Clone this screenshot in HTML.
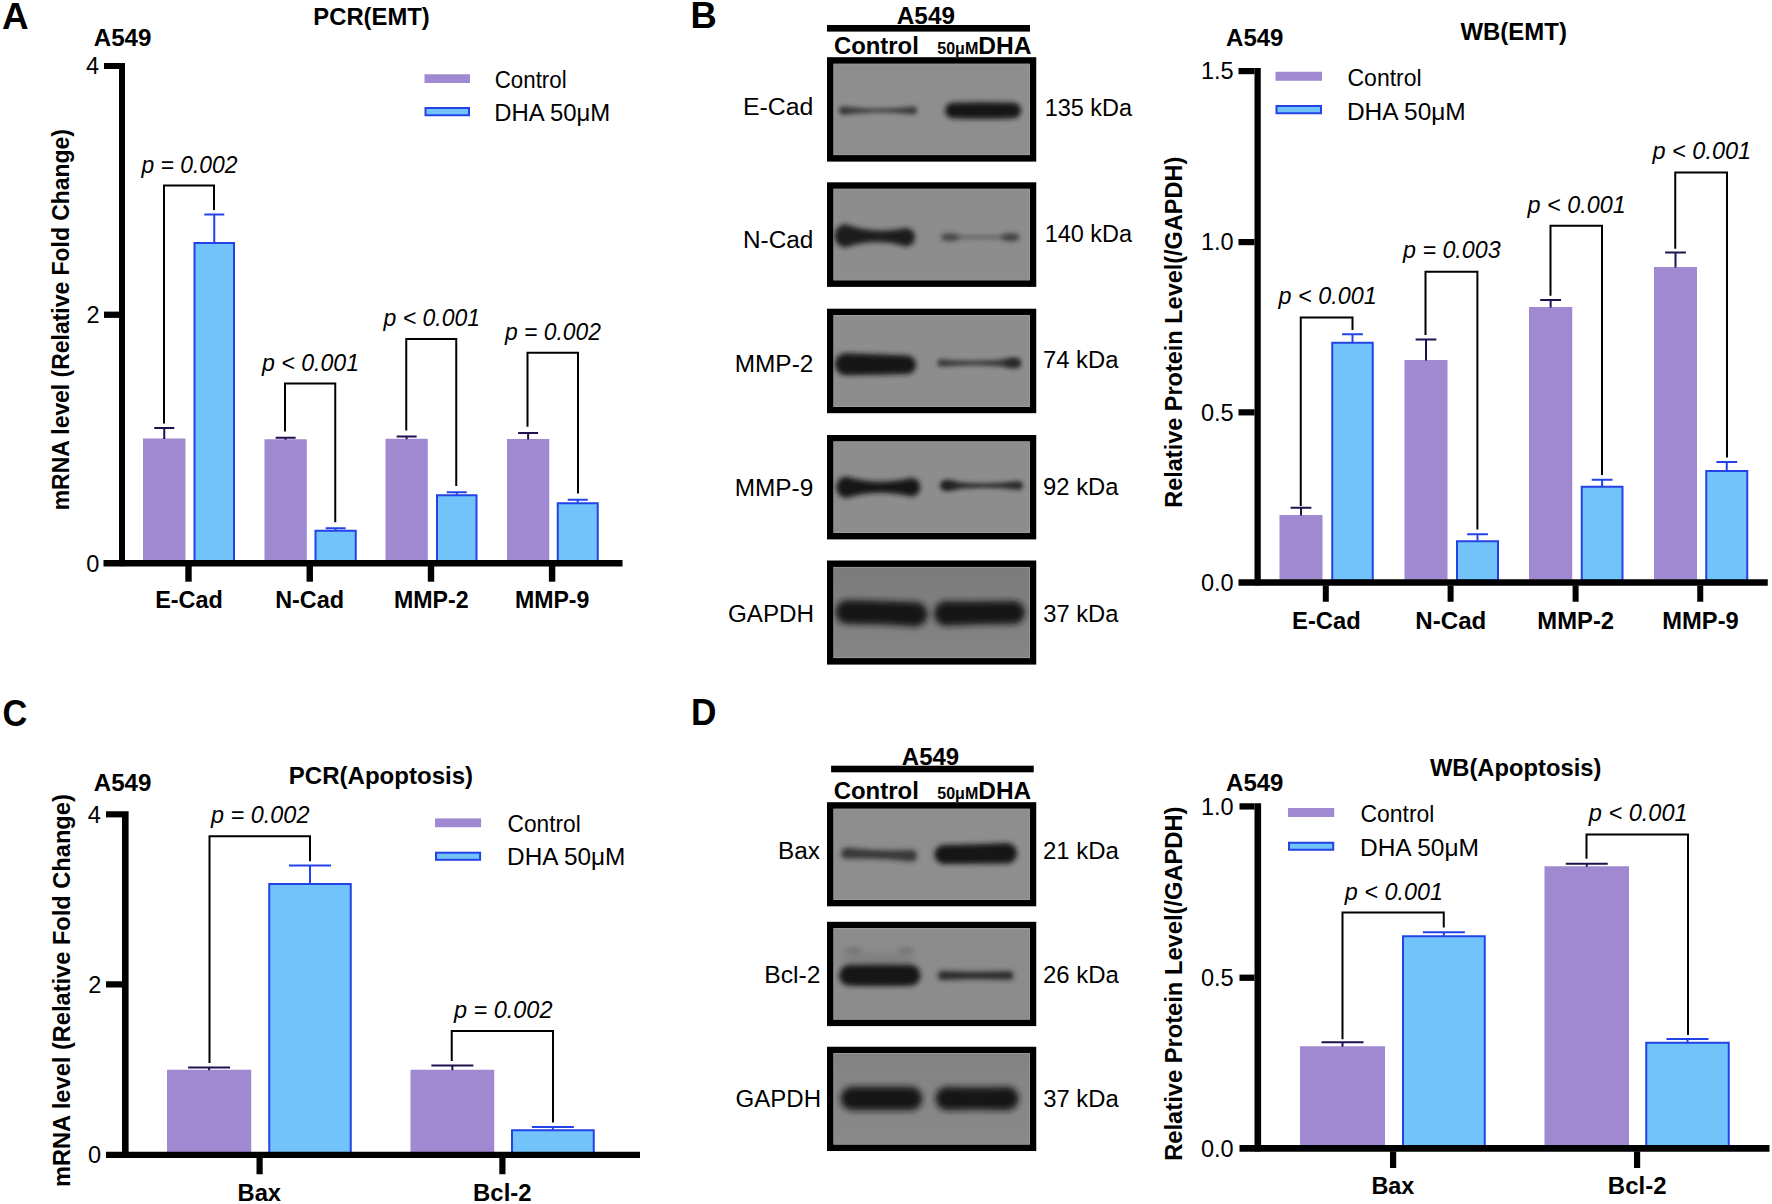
<!DOCTYPE html>
<html><head><meta charset="utf-8"><title>Figure</title>
<style>
html,body{margin:0;padding:0;background:#fff}
svg{display:block}
text{font-family:"Liberation Sans",sans-serif}
</style></head><body>
<svg width="1772" height="1204" viewBox="0 0 1772 1204">
<defs><filter id="bl20" x="-30%" y="-200%" width="160%" height="500%"><feGaussianBlur stdDeviation="2.0"/></filter><filter id="bl22" x="-30%" y="-200%" width="160%" height="500%"><feGaussianBlur stdDeviation="2.2"/></filter><filter id="bl23" x="-30%" y="-200%" width="160%" height="500%"><feGaussianBlur stdDeviation="2.3"/></filter><filter id="bl24" x="-30%" y="-200%" width="160%" height="500%"><feGaussianBlur stdDeviation="2.4"/></filter><filter id="bl26" x="-30%" y="-200%" width="160%" height="500%"><feGaussianBlur stdDeviation="2.6"/></filter><filter id="bl27" x="-30%" y="-200%" width="160%" height="500%"><feGaussianBlur stdDeviation="2.7"/></filter><filter id="bl29" x="-30%" y="-200%" width="160%" height="500%"><feGaussianBlur stdDeviation="2.9"/></filter><filter id="bl30" x="-30%" y="-200%" width="160%" height="500%"><feGaussianBlur stdDeviation="3.0"/></filter><filter id="bl35" x="-30%" y="-200%" width="160%" height="500%"><feGaussianBlur stdDeviation="3.5"/></filter></defs>
<rect width="1772" height="1204" fill="#fff"/>
<text transform="translate(1.98,29.00) scale(0.9964,1)" font-size="37" font-weight="bold" fill="#000">A</text>
<text transform="translate(690.53,28.20) scale(0.9836,1)" font-size="37" font-weight="bold" fill="#000">B</text>
<text transform="translate(2.53,725.50) scale(0.9284,1)" font-size="37" font-weight="bold" fill="#000">C</text>
<text transform="translate(690.91,725.10) scale(0.9536,1)" font-size="37" font-weight="bold" fill="#000">D</text>
<rect x="143.00" y="438.50" width="42.50" height="122.00" fill="#a089d0" />
<path d="M154.25 428.00H174.25M164.25 428.00V439.00" stroke="#21104f" stroke-width="2" fill="none"/>
<rect x="194.50" y="243.00" width="39.50" height="318.50" fill="#73c3fb" stroke="#2443e6" stroke-width="2.0"/>
<path d="M204.25 214.50H224.25M214.25 214.50V242.50" stroke="#2443e6" stroke-width="2" fill="none"/>
<rect x="264.50" y="439.25" width="42.25" height="121.25" fill="#a089d0" />
<path d="M275.62 437.75H295.62M285.62 437.75V439.75" stroke="#21104f" stroke-width="2" fill="none"/>
<rect x="315.50" y="530.75" width="40.25" height="30.75" fill="#73c3fb" stroke="#2443e6" stroke-width="2.0"/>
<path d="M325.62 528.25H345.62M335.62 528.25V530.25" stroke="#2443e6" stroke-width="2" fill="none"/>
<rect x="385.50" y="438.75" width="42.25" height="121.75" fill="#a089d0" />
<path d="M396.62 436.50H416.62M406.62 436.50V439.25" stroke="#21104f" stroke-width="2" fill="none"/>
<rect x="437.00" y="495.25" width="39.50" height="66.25" fill="#73c3fb" stroke="#2443e6" stroke-width="2.0"/>
<path d="M446.75 492.25H466.75M456.75 492.25V494.75" stroke="#2443e6" stroke-width="2" fill="none"/>
<rect x="507.00" y="439.00" width="42.25" height="121.50" fill="#a089d0" />
<path d="M518.12 433.00H538.12M528.12 433.00V439.50" stroke="#21104f" stroke-width="2" fill="none"/>
<rect x="557.75" y="503.25" width="40.00" height="58.25" fill="#73c3fb" stroke="#2443e6" stroke-width="2.0"/>
<path d="M567.75 499.75H587.75M577.75 499.75V502.75" stroke="#2443e6" stroke-width="2" fill="none"/>
<path d="M164.00 423.50V185.50H214.00V210.00" stroke="#000" stroke-width="2" fill="none"/>
<path d="M285.00 431.50V383.50H335.25V522.25" stroke="#000" stroke-width="2" fill="none"/>
<path d="M406.25 430.50V339.00H456.25V486.00" stroke="#000" stroke-width="2" fill="none"/>
<path d="M527.50 426.75V352.75H578.00V493.50" stroke="#000" stroke-width="2" fill="none"/>
<text transform="translate(141.47,173.00) scale(0.9735,1)" font-size="23.5" font-style="italic" fill="#000">p = 0.002</text>
<text transform="translate(261.98,371.00) scale(0.9848,1)" font-size="23.5" font-style="italic" fill="#000">p &lt; 0.001</text>
<text transform="translate(383.48,326.00) scale(0.9797,1)" font-size="23.5" font-style="italic" fill="#000">p &lt; 0.001</text>
<text transform="translate(504.97,339.75) scale(0.9735,1)" font-size="23.5" font-style="italic" fill="#000">p = 0.002</text>
<text transform="translate(85.93,74.21) scale(0.9900,1)" font-size="23.8" fill="#000">4</text>
<text transform="translate(86.40,323.08) scale(0.9900,1)" font-size="23.8" fill="#000">2</text>
<text transform="translate(86.17,571.58) scale(0.9900,1)" font-size="23.8" fill="#000">0</text>
<text transform="translate(155.13,608.00) scale(0.9933,1)" font-size="23.6" font-weight="bold" fill="#000">E-Cad</text>
<text transform="translate(275.13,608.00) scale(0.9927,1)" font-size="23.6" font-weight="bold" fill="#000">N-Cad</text>
<text transform="translate(393.89,608.00) scale(0.9821,1)" font-size="23.6" font-weight="bold" fill="#000">MMP-2</text>
<text transform="translate(514.90,608.00) scale(0.9806,1)" font-size="23.6" font-weight="bold" fill="#000">MMP-9</text>
<text transform="translate(313.35,25.00) scale(1.0005,1)" font-size="23.8" font-weight="bold" fill="#000">PCR(EMT)</text>
<text transform="translate(93.80,45.50) scale(1.0050,1)" font-size="24" font-weight="bold" fill="#000">A549</text>
<rect x="424.50" y="74.25" width="45.50" height="8.75" fill="#a089d0" />
<rect x="425.50" y="108.00" width="43.50" height="7.25" fill="#73c3fb" stroke="#2443e6" stroke-width="2.0"/>
<text transform="translate(494.79,87.50) scale(0.9565,1)" font-size="23.3" fill="#000">Control</text>
<text transform="translate(494.19,120.50) scale(1.0261,1)" font-size="23.3" fill="#000">DHA 50μM</text>
<text transform="translate(68.70,510.29) rotate(-90) scale(0.9760,1)" font-size="23.5" font-weight="bold">mRNA level (Relative Fold Change)</text>
<rect x="167.00" y="1069.75" width="84.25" height="82.45" fill="#a089d0" />
<path d="M188.12 1067.50H230.12M209.12 1067.50V1070.25" stroke="#21104f" stroke-width="2" fill="none"/>
<rect x="269.25" y="884.00" width="81.50" height="269.20" fill="#73c3fb" stroke="#2443e6" stroke-width="2.0"/>
<path d="M289.00 865.50H331.00M310.00 865.50V883.50" stroke="#2443e6" stroke-width="2" fill="none"/>
<rect x="410.50" y="1069.75" width="83.75" height="82.45" fill="#a089d0" />
<path d="M431.38 1065.50H473.38M452.38 1065.50V1070.25" stroke="#21104f" stroke-width="2" fill="none"/>
<rect x="512.00" y="1130.25" width="81.75" height="22.95" fill="#73c3fb" stroke="#2443e6" stroke-width="2.0"/>
<path d="M531.88 1127.00H573.88M552.88 1127.00V1129.75" stroke="#2443e6" stroke-width="2" fill="none"/>
<path d="M209.50 1063.00V836.25H310.00V861.25" stroke="#000" stroke-width="2" fill="none"/>
<path d="M451.75 1061.00V1031.00H553.00V1122.50" stroke="#000" stroke-width="2" fill="none"/>
<text transform="translate(210.99,823.00) scale(0.9988,1)" font-size="23.5" font-style="italic" fill="#000">p = 0.002</text>
<text transform="translate(453.99,1017.50) scale(0.9988,1)" font-size="23.5" font-style="italic" fill="#000">p = 0.002</text>
<text transform="translate(87.83,822.51) scale(0.9900,1)" font-size="23.8" fill="#000">4</text>
<text transform="translate(88.30,992.73) scale(0.9900,1)" font-size="23.8" fill="#000">2</text>
<text transform="translate(88.07,1163.33) scale(0.9900,1)" font-size="23.8" fill="#000">0</text>
<text transform="translate(237.61,1201.00) scale(1.0039,1)" font-size="23.6" font-weight="bold" fill="#000">Bax</text>
<text transform="translate(473.10,1201.00) scale(1.0131,1)" font-size="23.6" font-weight="bold" fill="#000">Bcl-2</text>
<text transform="translate(288.84,783.75) scale(1.0105,1)" font-size="23.8" font-weight="bold" fill="#000">PCR(Apoptosis)</text>
<text transform="translate(93.80,791.00) scale(1.0050,1)" font-size="24" font-weight="bold" fill="#000">A549</text>
<rect x="435.00" y="818.40" width="46.10" height="8.80" fill="#a089d0" />
<rect x="436.00" y="852.70" width="44.10" height="7.10" fill="#73c3fb" stroke="#2443e6" stroke-width="2.0"/>
<text transform="translate(507.56,832.40) scale(0.9745,1)" font-size="23.3" fill="#000">Control</text>
<text transform="translate(507.05,865.40) scale(1.0467,1)" font-size="23.3" fill="#000">DHA 50μM</text>
<text transform="translate(70.20,1187.04) rotate(-90) scale(1.0059,1)" font-size="23.5" font-weight="bold">mRNA level (Relative Fold Change)</text>
<rect x="1279.50" y="515.00" width="43.00" height="64.70" fill="#a089d0" />
<path d="M1290.60 507.75H1311.40M1301.00 507.75V515.50" stroke="#21104f" stroke-width="2" fill="none"/>
<rect x="1332.25" y="342.75" width="40.50" height="237.95" fill="#73c3fb" stroke="#2443e6" stroke-width="2.0"/>
<path d="M1342.10 334.25H1362.90M1352.50 334.25V342.25" stroke="#2443e6" stroke-width="2" fill="none"/>
<rect x="1404.50" y="360.00" width="43.00" height="219.70" fill="#a089d0" />
<path d="M1415.60 339.40H1436.40M1426.00 339.40V360.50" stroke="#21104f" stroke-width="2" fill="none"/>
<rect x="1457.00" y="541.25" width="41.00" height="39.45" fill="#73c3fb" stroke="#2443e6" stroke-width="2.0"/>
<path d="M1467.10 534.25H1487.90M1477.50 534.25V540.75" stroke="#2443e6" stroke-width="2" fill="none"/>
<rect x="1529.00" y="307.00" width="43.25" height="272.70" fill="#a089d0" />
<path d="M1540.22 299.90H1561.03M1550.62 299.90V307.50" stroke="#21104f" stroke-width="2" fill="none"/>
<rect x="1581.75" y="486.75" width="40.75" height="93.95" fill="#73c3fb" stroke="#2443e6" stroke-width="2.0"/>
<path d="M1591.72 479.75H1612.53M1602.12 479.75V486.25" stroke="#2443e6" stroke-width="2" fill="none"/>
<rect x="1654.00" y="267.00" width="43.00" height="312.70" fill="#a089d0" />
<path d="M1665.10 252.50H1685.90M1675.50 252.50V267.50" stroke="#21104f" stroke-width="2" fill="none"/>
<rect x="1706.25" y="471.00" width="41.00" height="109.70" fill="#73c3fb" stroke="#2443e6" stroke-width="2.0"/>
<path d="M1716.35 462.00H1737.15M1726.75 462.00V470.50" stroke="#2443e6" stroke-width="2" fill="none"/>
<path d="M1300.75 506.00V317.50H1352.50V330.00" stroke="#000" stroke-width="2" fill="none"/>
<path d="M1425.50 335.00V271.75H1477.40V529.50" stroke="#000" stroke-width="2" fill="none"/>
<path d="M1550.50 295.75V225.75H1602.00V475.00" stroke="#000" stroke-width="2" fill="none"/>
<path d="M1675.25 248.75V172.50H1727.00V457.50" stroke="#000" stroke-width="2" fill="none"/>
<text transform="translate(1278.48,303.75) scale(0.9951,1)" font-size="23.5" font-style="italic" fill="#000">p &lt; 0.001</text>
<text transform="translate(1402.98,257.50) scale(0.9900,1)" font-size="23.5" font-style="italic" fill="#000">p = 0.003</text>
<text transform="translate(1527.48,212.50) scale(0.9951,1)" font-size="23.5" font-style="italic" fill="#000">p &lt; 0.001</text>
<text transform="translate(1652.49,159.25) scale(1.0003,1)" font-size="23.5" font-style="italic" fill="#000">p &lt; 0.001</text>
<text transform="translate(1200.89,79.46) scale(0.9900,1)" font-size="23.8" fill="#000">1.5</text>
<text transform="translate(1200.89,250.43) scale(0.9900,1)" font-size="23.8" fill="#000">1.0</text>
<text transform="translate(1200.89,420.73) scale(0.9900,1)" font-size="23.8" fill="#000">0.5</text>
<text transform="translate(1200.89,590.83) scale(0.9900,1)" font-size="23.8" fill="#000">0.0</text>
<text transform="translate(1292.06,628.75) scale(0.9903,1)" font-size="24" font-weight="bold" fill="#000">E-Cad</text>
<text transform="translate(1415.33,628.75) scale(1.0058,1)" font-size="24" font-weight="bold" fill="#000">N-Cad</text>
<text transform="translate(1537.35,628.75) scale(0.9925,1)" font-size="24" font-weight="bold" fill="#000">MMP-2</text>
<text transform="translate(1662.36,628.75) scale(0.9876,1)" font-size="24" font-weight="bold" fill="#000">MMP-9</text>
<text transform="translate(1460.40,40.00) scale(1.0081,1)" font-size="23.8" font-weight="bold" fill="#000">WB(EMT)</text>
<text transform="translate(1226.05,45.50) scale(1.0005,1)" font-size="24" font-weight="bold" fill="#000">A549</text>
<rect x="1275.50" y="71.75" width="46.50" height="9.00" fill="#a089d0" />
<rect x="1276.50" y="106.00" width="44.50" height="7.25" fill="#73c3fb" stroke="#2443e6" stroke-width="2.0"/>
<text transform="translate(1347.50,85.50) scale(0.9876,1)" font-size="23.3" fill="#000">Control</text>
<text transform="translate(1346.94,119.50) scale(1.0508,1)" font-size="23.3" fill="#000">DHA 50μM</text>
<text transform="translate(1182.20,507.78) rotate(-90) scale(0.9998,1)" font-size="23.5" font-weight="bold">Relative Protein Level(/GAPDH)</text>
<rect x="1300.00" y="1046.25" width="85.00" height="99.25" fill="#a089d0" />
<path d="M1321.50 1042.25H1363.50M1342.50 1042.25V1046.75" stroke="#21104f" stroke-width="2" fill="none"/>
<rect x="1403.00" y="936.25" width="81.75" height="210.25" fill="#73c3fb" stroke="#2443e6" stroke-width="2.0"/>
<path d="M1422.88 932.25H1464.88M1443.88 932.25V935.75" stroke="#2443e6" stroke-width="2" fill="none"/>
<rect x="1544.50" y="866.25" width="84.50" height="279.25" fill="#a089d0" />
<path d="M1565.75 863.75H1607.75M1586.75 863.75V866.75" stroke="#21104f" stroke-width="2" fill="none"/>
<rect x="1646.25" y="1042.75" width="82.50" height="103.75" fill="#73c3fb" stroke="#2443e6" stroke-width="2.0"/>
<path d="M1666.50 1039.00H1708.50M1687.50 1039.00V1042.25" stroke="#2443e6" stroke-width="2" fill="none"/>
<path d="M1342.50 1039.25V912.50H1443.75V927.50" stroke="#000" stroke-width="2" fill="none"/>
<path d="M1586.50 858.75V834.50H1688.00V1035.00" stroke="#000" stroke-width="2" fill="none"/>
<text transform="translate(1344.73,899.50) scale(0.9951,1)" font-size="23.5" font-style="italic" fill="#000">p &lt; 0.001</text>
<text transform="translate(1588.74,820.50) scale(1.0029,1)" font-size="23.5" font-style="italic" fill="#000">p &lt; 0.001</text>
<text transform="translate(1200.89,814.73) scale(0.9900,1)" font-size="23.8" fill="#000">1.0</text>
<text transform="translate(1200.89,985.93) scale(0.9900,1)" font-size="23.8" fill="#000">0.5</text>
<text transform="translate(1200.89,1156.93) scale(0.9900,1)" font-size="23.8" fill="#000">0.0</text>
<text transform="translate(1371.38,1194.25) scale(0.9919,1)" font-size="23.6" font-weight="bold" fill="#000">Bax</text>
<text transform="translate(1607.84,1194.25) scale(1.0177,1)" font-size="23.6" font-weight="bold" fill="#000">Bcl-2</text>
<text transform="translate(1429.90,775.50) scale(0.9982,1)" font-size="23.8" font-weight="bold" fill="#000">WB(Apoptosis)</text>
<text transform="translate(1226.05,791.25) scale(1.0005,1)" font-size="24" font-weight="bold" fill="#000">A549</text>
<rect x="1288.00" y="808.00" width="46.25" height="9.00" fill="#a089d0" />
<rect x="1289.00" y="842.75" width="44.25" height="7.00" fill="#73c3fb" stroke="#2443e6" stroke-width="2.0"/>
<text transform="translate(1360.50,822.00) scale(0.9842,1)" font-size="23.3" fill="#000">Control</text>
<text transform="translate(1359.94,855.75) scale(1.0531,1)" font-size="23.3" fill="#000">DHA 50μM</text>
<text transform="translate(1182.20,1160.79) rotate(-90) scale(1.0090,1)" font-size="23.5" font-weight="bold">Relative Protein Level(/GAPDH)</text>
<rect x="827.00" y="57.20" width="209.25" height="104.40" fill="#000" />
<clipPath id="c1"><rect x="833.3" y="63.5" width="196.6500000000001" height="91.79999999999998"/></clipPath>
<g clip-path="url(#c1)">
<rect x="833.30" y="63.50" width="196.65" height="91.80" fill="#8e8e8e" />
<rect x="833.6999999999999" y="63.9" width="195.85000000000008" height="90.99999999999999" fill="none" stroke="#a0a0a0" stroke-width="0.8"/>
<path d="M843.2 106.2 Q878.0 111.1 913.0 106.5 A4.0 4.0 0 0 1 913.0 114.5 Q878.0 109.9 843.2 114.8 A4.2 4.2 0 0 1 843.2 106.2Z" fill="#333" opacity="0.9" filter="url(#bl20)"/>
<path d="M952.0 102.8 Q983.0 101.8 1014.0 102.8 A7.8 7.8 0 0 1 1014.0 118.3 Q983.0 119.3 952.0 118.3 A7.8 7.8 0 0 1 952.0 102.8Z" fill="#161616" opacity="1" filter="url(#bl26)"/>
</g>
<rect x="827.00" y="182.30" width="209.25" height="104.60" fill="#000" />
<clipPath id="c2"><rect x="833.3" y="188.60000000000002" width="196.6500000000001" height="91.99999999999994"/></clipPath>
<g clip-path="url(#c2)">
<rect x="833.30" y="188.60" width="196.65" height="92.00" fill="#8d8d8d" />
<rect x="833.6999999999999" y="189.00000000000003" width="195.85000000000008" height="91.19999999999995" fill="none" stroke="#a0a0a0" stroke-width="0.8"/>
<path d="M846.0 224.3 Q874.8 235.2 905.8 227.9 A9.2 9.2 0 0 1 905.8 246.4 Q874.8 237.4 846.0 247.3 A11.5 11.5 0 0 1 846.0 224.3Z" fill="#1a1a1a" opacity="1" filter="url(#bl29)"/>
<path d="M944.5 234.7 Q980.2 236.2 1016.0 234.7 A2.5 2.5 0 0 1 1016.0 239.7 Q980.2 238.2 944.5 239.7 A2.5 2.5 0 0 1 944.5 234.7Z" fill="#4a4a4a" opacity="0.6" filter="url(#bl22)"/>
<ellipse cx="950" cy="237.2" rx="9" ry="3.6" fill="#383838" opacity="0.75" filter="url(#bl24)"/>
<ellipse cx="1010.5" cy="237.2" rx="9" ry="3.8" fill="#383838" opacity="0.8" filter="url(#bl24)"/>
</g>
<rect x="827.00" y="308.70" width="209.25" height="104.50" fill="#000" />
<clipPath id="c3"><rect x="833.3" y="315.0" width="196.6500000000001" height="91.89999999999998"/></clipPath>
<g clip-path="url(#c3)">
<rect x="833.30" y="315.00" width="196.65" height="91.90" fill="#8d8d8d" />
<rect x="833.6999999999999" y="315.4" width="195.85000000000008" height="91.09999999999998" fill="none" stroke="#a0a0a0" stroke-width="0.8"/>
<path d="M846.0 353.2 Q875.5 354.1 906.8 355.6 A9.2 9.2 0 0 1 906.8 374.1 Q875.5 374.9 846.0 375.2 A11.0 11.0 0 0 1 846.0 353.2Z" fill="#171717" opacity="1" filter="url(#bl29)"/>
<path d="M941.2 359.2 Q979.1 362.9 1015.8 358.0 A5.0 5.0 0 0 1 1015.8 368.0 Q979.1 363.1 941.2 366.8 A3.8 3.8 0 0 1 941.2 359.2Z" fill="#303030" opacity="0.9" filter="url(#bl23)"/>
<ellipse cx="1012.5" cy="363" rx="8" ry="4.6" fill="#222" opacity="0.75" filter="url(#bl24)"/>
</g>
<rect x="827.00" y="435.00" width="209.25" height="104.40" fill="#000" />
<clipPath id="c4"><rect x="833.3" y="441.3" width="196.6500000000001" height="91.80000000000001"/></clipPath>
<g clip-path="url(#c4)">
<rect x="833.30" y="441.30" width="196.65" height="91.80" fill="#8d8d8d" />
<rect x="833.6999999999999" y="441.7" width="195.85000000000008" height="91.00000000000001" fill="none" stroke="#a0a0a0" stroke-width="0.8"/>
<path d="M846.0 476.4 Q877.8 486.2 911.0 477.9 A9.2 9.2 0 0 1 911.0 496.4 Q877.8 488.2 846.0 497.9 A10.8 10.8 0 0 1 846.0 476.4Z" fill="#171717" opacity="1" filter="url(#bl29)"/>
<path d="M945.5 480.6 Q981.8 485.9 1018.5 481.1 A4.5 4.5 0 0 1 1018.5 490.1 Q981.8 485.4 945.5 490.6 A5.0 5.0 0 0 1 945.5 480.6Z" fill="#282828" opacity="0.95" filter="url(#bl23)"/>
<ellipse cx="948.5" cy="485.6" rx="7.5" ry="4.6" fill="#1e1e1e" opacity="0.7" filter="url(#bl24)"/>
</g>
<rect x="827.00" y="560.50" width="209.25" height="104.10" fill="#000" />
<clipPath id="c5"><rect x="833.3" y="566.8" width="196.6500000000001" height="91.50000000000011"/></clipPath>
<g clip-path="url(#c5)">
<linearGradient id="g5" x1="0" y1="0" x2="0" y2="1"><stop offset="0" stop-color="#7b7b7b"/><stop offset="1" stop-color="#858585"/></linearGradient>
<rect x="833.30" y="566.80" width="196.65" height="91.50" fill="url(#g5)" />
<rect x="833.6999999999999" y="567.1999999999999" width="195.85000000000008" height="90.70000000000012" fill="none" stroke="#a0a0a0" stroke-width="0.8"/>
<path d="M847.5 600.1 Q881.5 601.2 915.2 601.9 A12.2 12.2 0 0 1 915.2 626.4 Q881.5 624.0 847.5 624.1 A12.0 12.0 0 0 1 847.5 600.1Z" fill="#161616" opacity="1" filter="url(#bl30)"/>
<path d="M946.2 601.3 Q979.4 601.7 1013.3 601.0 A11.5 11.5 0 0 1 1013.3 624.0 Q979.4 623.9 946.2 625.8 A12.2 12.2 0 0 1 946.2 601.3Z" fill="#161616" opacity="1" filter="url(#bl30)"/>
</g>
<rect x="827.00" y="802.20" width="209.25" height="104.10" fill="#000" />
<clipPath id="c6"><rect x="833.3" y="808.5" width="196.6500000000001" height="91.5"/></clipPath>
<g clip-path="url(#c6)">
<rect x="833.30" y="808.50" width="196.65" height="91.50" fill="#8e8e8e" />
<rect x="833.6999999999999" y="808.9" width="195.85000000000008" height="90.7" fill="none" stroke="#a0a0a0" stroke-width="0.8"/>
<path d="M846.5 847.8 Q879.2 851.6 911.8 850.0 A5.8 5.8 0 0 1 911.8 861.5 Q879.2 857.4 846.5 858.8 A5.5 5.5 0 0 1 846.5 847.8Z" fill="#2c2c2c" opacity="0.88" filter="url(#bl27)"/>
<path d="M944.0 845.0 Q975.8 844.4 1006.8 843.0 A10.2 10.2 0 0 1 1006.8 863.5 Q975.8 863.6 944.0 864.0 A9.5 9.5 0 0 1 944.0 845.0Z" fill="#171717" opacity="1" filter="url(#bl29)"/>
</g>
<rect x="827.00" y="921.80" width="209.25" height="104.30" fill="#000" />
<clipPath id="c7"><rect x="833.3" y="928.0999999999999" width="196.6500000000001" height="91.70000000000005"/></clipPath>
<g clip-path="url(#c7)">
<rect x="833.30" y="928.10" width="196.65" height="91.70" fill="#8c8c8c" />
<rect x="833.6999999999999" y="928.4999999999999" width="195.85000000000008" height="90.90000000000005" fill="none" stroke="#a0a0a0" stroke-width="0.8"/>
<path d="M847.0 953.0 Q878.5 953.0 910.0 953.0 A5.0 5.0 0 0 1 910.0 963.0 Q878.5 963.0 847.0 963.0 A5.0 5.0 0 0 1 847.0 953.0Z" fill="#6a6a6a" opacity="0.35" filter="url(#bl35)"/>
<ellipse cx="854" cy="950.5" rx="9" ry="2.6" fill="#5a5a5a" opacity="0.55" filter="url(#bl24)"/>
<ellipse cx="905.5" cy="950.5" rx="8" ry="2.6" fill="#5a5a5a" opacity="0.55" filter="url(#bl24)"/>
<path d="M849.5 964.8 Q879.8 964.3 910.0 964.8 A10.5 10.5 0 0 1 910.0 985.8 Q879.8 986.3 849.5 985.8 A10.5 10.5 0 0 1 849.5 964.8Z" fill="#161616" opacity="1" filter="url(#bl29)"/>
<path d="M942.5 971.0 Q975.8 972.9 1009.2 971.2 A4.2 4.2 0 0 1 1009.2 979.8 Q975.8 978.1 942.5 980.0 A4.5 4.5 0 0 1 942.5 971.0Z" fill="#242424" opacity="0.95" filter="url(#bl24)"/>
</g>
<rect x="827.00" y="1046.75" width="209.25" height="104.25" fill="#000" />
<clipPath id="c8"><rect x="833.3" y="1053.05" width="196.6500000000001" height="91.65000000000009"/></clipPath>
<g clip-path="url(#c8)">
<linearGradient id="g8" x1="0" y1="0" x2="0" y2="1"><stop offset="0" stop-color="#838383"/><stop offset="1" stop-color="#898989"/></linearGradient>
<rect x="833.30" y="1053.05" width="196.65" height="91.65" fill="url(#g8)" />
<rect x="833.6999999999999" y="1053.45" width="195.85000000000008" height="90.8500000000001" fill="none" stroke="#a0a0a0" stroke-width="0.8"/>
<path d="M850.8 1086.8 Q881.4 1086.8 912.0 1086.8 A11.8 11.8 0 0 1 912.0 1110.2 Q881.4 1110.2 850.8 1110.2 A11.8 11.8 0 0 1 850.8 1086.8Z" fill="#161616" opacity="1" filter="url(#bl30)"/>
<path d="M945.8 1086.8 Q977.1 1087.8 1008.5 1086.8 A11.8 11.8 0 0 1 1008.5 1110.2 Q977.1 1109.2 945.8 1110.2 A11.8 11.8 0 0 1 945.8 1086.8Z" fill="#161616" opacity="1" filter="url(#bl30)"/>
</g>
<text transform="translate(743.01,115.20) scale(1.0219,1)" font-size="24.3" fill="#000">E-Cad</text>
<text transform="translate(743.05,247.60) scale(1.0014,1)" font-size="24.3" fill="#000">N-Cad</text>
<text transform="translate(734.70,372.00) scale(1.0048,1)" font-size="24.3" fill="#000">MMP-2</text>
<text transform="translate(734.70,496.25) scale(1.0032,1)" font-size="24.3" fill="#000">MMP-9</text>
<text transform="translate(727.94,622.00) scale(0.9967,1)" font-size="24.3" fill="#000">GAPDH</text>
<text transform="translate(1044.64,115.50) scale(0.9662,1)" font-size="24.3" fill="#000">135 kDa</text>
<text transform="translate(1044.64,241.50) scale(0.9662,1)" font-size="24.3" fill="#000">140 kDa</text>
<text transform="translate(1042.96,368.00) scale(0.9803,1)" font-size="24.3" fill="#000">74 kDa</text>
<text transform="translate(1043.08,494.50) scale(0.9787,1)" font-size="24.3" fill="#000">92 kDa</text>
<text transform="translate(1043.20,622.00) scale(0.9771,1)" font-size="24.3" fill="#000">37 kDa</text>
<text transform="translate(777.96,858.75) scale(0.9992,1)" font-size="24.3" fill="#000">Bax</text>
<text transform="translate(764.18,983.00) scale(1.0159,1)" font-size="24.3" fill="#000">Bcl-2</text>
<text transform="translate(735.45,1106.75) scale(0.9907,1)" font-size="24.3" fill="#000">GAPDH</text>
<text transform="translate(1042.95,858.75) scale(0.9869,1)" font-size="24.3" fill="#000">21 kDa</text>
<text transform="translate(1042.95,983.00) scale(0.9869,1)" font-size="24.3" fill="#000">26 kDa</text>
<text transform="translate(1043.20,1106.75) scale(0.9804,1)" font-size="24.3" fill="#000">37 kDa</text>
<text transform="translate(896.79,23.75) scale(1.0139,1)" font-size="24" font-weight="bold" fill="#000">A549</text>
<text transform="translate(833.94,53.75) scale(0.9874,1)" font-size="24.2" font-weight="bold" fill="#000">Control</text>
<text transform="translate(937.22,53.75) scale(0.9791,1)" font-size="16.4" font-weight="bold" fill="#000">50μM</text>
<text transform="translate(978.30,53.75) scale(1.0146,1)" font-size="24.2" font-weight="bold" fill="#000">DHA</text>
<text transform="translate(901.80,764.50) scale(1.0005,1)" font-size="24" font-weight="bold" fill="#000">A549</text>
<text transform="translate(833.64,799.00) scale(0.9910,1)" font-size="24.2" font-weight="bold" fill="#000">Control</text>
<text transform="translate(937.22,799.00) scale(0.9791,1)" font-size="16.4" font-weight="bold" fill="#000">50μM</text>
<text transform="translate(978.31,799.00) scale(1.0097,1)" font-size="24.2" font-weight="bold" fill="#000">DHA</text>
<rect x="119.00" y="63.00" width="6.00" height="503.20" fill="#000" />
<rect x="103.50" y="560.00" width="519.00" height="6.50" fill="#000" />
<rect x="104.00" y="63.00" width="15.00" height="6.00" fill="#000" />
<rect x="104.00" y="311.60" width="15.00" height="6.30" fill="#000" />
<rect x="185.30" y="566.00" width="6.40" height="15.70" fill="#000" />
<rect x="306.55" y="566.00" width="6.40" height="15.70" fill="#000" />
<rect x="427.80" y="566.00" width="6.40" height="15.70" fill="#000" />
<rect x="548.90" y="566.00" width="6.40" height="15.70" fill="#000" />
<rect x="122.00" y="811.25" width="6.60" height="346.45" fill="#000" />
<rect x="106.00" y="1151.75" width="534.00" height="6.25" fill="#000" />
<rect x="106.00" y="811.25" width="16.00" height="6.15" fill="#000" />
<rect x="106.00" y="981.25" width="16.00" height="6.25" fill="#000" />
<rect x="256.50" y="1157.50" width="6.20" height="16.75" fill="#000" />
<rect x="499.30" y="1157.50" width="6.20" height="16.75" fill="#000" />
<rect x="1254.50" y="68.00" width="6.25" height="517.40" fill="#000" />
<rect x="1238.50" y="579.25" width="529.25" height="6.50" fill="#000" />
<rect x="1238.50" y="68.00" width="16.00" height="6.20" fill="#000" />
<rect x="1238.50" y="239.00" width="16.00" height="6.20" fill="#000" />
<rect x="1238.50" y="409.25" width="16.00" height="6.20" fill="#000" />
<rect x="1322.80" y="585.50" width="6.00" height="16.25" fill="#000" />
<rect x="1447.60" y="585.50" width="6.00" height="16.25" fill="#000" />
<rect x="1572.60" y="585.50" width="6.00" height="16.25" fill="#000" />
<rect x="1697.25" y="585.50" width="6.00" height="16.25" fill="#000" />
<rect x="1254.50" y="803.25" width="6.60" height="348.15" fill="#000" />
<rect x="1239.50" y="1145.00" width="530.00" height="6.75" fill="#000" />
<rect x="1239.50" y="803.25" width="15.00" height="6.30" fill="#000" />
<rect x="1239.50" y="974.60" width="15.00" height="6.30" fill="#000" />
<rect x="1390.00" y="1151.50" width="6.20" height="16.50" fill="#000" />
<rect x="1634.00" y="1151.50" width="6.20" height="16.50" fill="#000" />
<rect x="827.00" y="25.00" width="203.00" height="6.60" fill="#000" />
<rect x="831.10" y="765.70" width="202.65" height="6.60" fill="#000" />
</svg>
</body></html>
